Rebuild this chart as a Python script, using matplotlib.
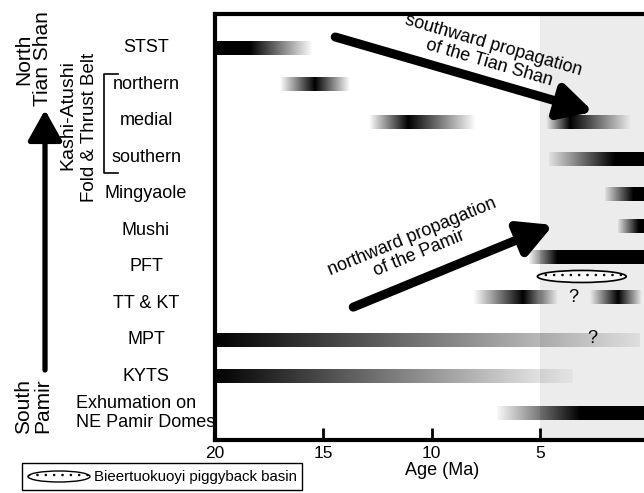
import numpy as np
import matplotlib
matplotlib.use('Agg')
import matplotlib.pyplot as plt
from matplotlib.patches import Ellipse, FancyArrowPatch, Rectangle, ArrowStyle
import matplotlib.transforms as mtransforms

plt.rcParams['font.family'] = ['Liberation Sans', 'DejaVu Sans']
plt.rcParams['hatch.linewidth'] = 0.6

# ---------------- data ----------------
row_labels = ['Exhumation on\nNE Pamir Domes', 'KYTS', 'MPT', 'TT & KT', 'PFT',
              'Mushi', 'Mingyaole', 'southern', 'medial', 'northern', 'STST']
row_pos = [0, 1, 2, 3, 4, 5, 6, 7, 8, 9, 10]

# gradient bars: y-centre, oldest end, dark start, dark end, youngest end (Ma),
# opacity at the oldest / youngest end
bar_y        = [10.0, 9.0, 7.95, 7.95, 6.95, 6.0, 5.1, 4.25, 3.17, 3.17, 2.0, 1.0, 0.0]
bar_old      = [20.0, 17.0, 12.9, 4.7, 4.6, 2.0, 1.4, 5.5, 8.1, 2.7, 20.0, 20.0, 7.0]
bar_dark_old = [20.0, 15.4, 11.1, 3.6, 1.6, 0.7, 0.45, 4.2, 5.8, 1.4, 20.0, 20.0, 3.2]
bar_dark_yng = [18.4, 15.4, 11.1, 3.6, -1.0, -1.0, -1.0, -1.0, 5.8, 1.4, 20.0, 20.0, -1.0]
bar_young    = [15.5, 13.8, 8.0, 0.8, -1.0, -1.0, -1.0, -1.0, 4.2, 0.3, 0.4, 3.5, -1.0]
bar_a_old    = [1.0, 0.0, 0.0, 0.0, 0.05, 0.05, 0.05, 0.05, 0.0, 0.0, 1.0, 1.0, 0.03]
bar_a_young  = [0.0, 0.0, 0.0, 0.0, 1.0, 1.0, 1.0, 1.0, 0.0, 0.0, 0.06, 0.03, 1.0]

# piggyback basin (Ma, row)
basin_x, basin_y, basin_w, basin_h = 3.07, 3.74, 4.1, 0.33

# question marks
q_x = [3.46, 2.58]
q_y = [3.17, 2.05]

# propagation arrows (age, row)
south_tail, south_tip = (14.45, 10.30), (2.54, 8.25)
north_tail, north_tip = (13.62, 2.90), (4.39, 5.15)
south_text_xy, south_rot = (7.25, 9.83), -16.2
north_text_xy, north_rot = (10.75, 4.6), 22.3

shade_span = (5.0, 0.0)
xticks = [20, 15, 10, 5, 0]
xlim = (20, -1)
ylim = (-0.74, 10.93)

# ---------------- figure ----------------
W, H = 644, 493
fig = plt.figure(figsize=(W / 100, H / 100), dpi=100)
ax = fig.add_axes([215 / W, 1 - 440 / H, 455 / W, (440 - 14) / H])
ax.set_facecolor('white')

ax.axvspan(*shade_span, color='#ececec', zorder=0, lw=0)

bar_h = 0.36
for y, a0, a1, a2, a3, e0, e3 in zip(bar_y, bar_old, bar_dark_old, bar_dark_yng,
                                     bar_young, bar_a_old, bar_a_young):
    xs = np.linspace(a0, a3, 500)
    kx = [a3, a2, a1, a0]
    ka = [e3, 1.0, 1.0, e0]
    alpha = np.interp(xs, kx, ka)
    img = np.zeros((1, xs.size, 4))
    img[..., 3] = alpha
    ax.imshow(img, extent=(a0, a3, y - bar_h / 2, y + bar_h / 2), aspect='auto',
              interpolation='bilinear', zorder=2)

# basin ellipse
ax.add_patch(Ellipse((basin_x, basin_y), basin_w, basin_h, facecolor='#f8f8f8',
                     edgecolor='black', lw=1.2, hatch='..', zorder=3))

for qx, qy in zip(q_x, q_y):
    ax.text(qx, qy, '?', ha='center', va='center', fontsize=13, zorder=4)

astyle = ArrowStyle('-|>', head_length=0.62, head_width=0.33)
for tail, tip in [(south_tail, south_tip), (north_tail, north_tip)]:
    ax.add_patch(FancyArrowPatch(tail, tip, arrowstyle=astyle, mutation_scale=32,
                                 lw=6.5, color='black', capstyle='round',
                                 shrinkA=0, shrinkB=0, zorder=5))

ax.text(*south_text_xy, 'southward propagation\nof the Tian Shan', rotation=south_rot,
        ha='center', va='center', fontsize=13, rotation_mode='anchor',
        linespacing=1.05, zorder=6)
ax.text(*north_text_xy, 'northward propagation\nof the Pamir', rotation=north_rot,
        ha='center', va='center', fontsize=13, rotation_mode='anchor',
        linespacing=1.05, zorder=6)

ax.set_xlim(*xlim)
ax.set_ylim(*ylim)
ax.set_xticks(xticks)
ax.set_xticklabels([str(t) for t in xticks], fontsize=12.5)
ax.set_yticks([])
ax.tick_params(axis='x', direction='in', length=9, width=2, pad=4)
for s in ax.spines.values():
    s.set_linewidth(3)
ax.set_xlabel('Age (Ma)', fontsize=13, labelpad=1)

# row labels
tr = mtransforms.blended_transform_factory(fig.transFigure, ax.transData)
for lab, y in zip(row_labels, row_pos):
    ax.text(146 / W, y, lab, transform=tr, ha='center', va='center', fontsize=13,
            multialignment='left', linespacing=1.15, clip_on=False)

def fx(px):
    return px / W

def fy(py):
    return 1 - py / H

# left side annotations
fig.text(fx(33), fy(59), 'North\nTian Shan', rotation=90, ha='center', va='center',
         fontsize=15, linespacing=1.0)
fig.text(fx(33), fy(406), 'South\nPamir', rotation=90, ha='center', va='center',
         fontsize=15, linespacing=1.0)
fig.text(fx(68), fy(115), 'Kashi-Atushi', rotation=90, ha='center', va='center',
         fontsize=14)
fig.text(fx(90), fy(127), 'Fold & Thrust Belt', rotation=90, ha='center', va='center',
         fontsize=13.5)

# bracket
fig.add_artist(plt.Line2D([fx(118), fx(104), fx(104), fx(118)],
                          [fy(74), fy(74), fy(173), fy(173)], color='black', lw=1.2))

# big vertical arrow
fig.add_artist(FancyArrowPatch((fx(45), fy(370)), (fx(45), fy(110)),
                               transform=fig.transFigure,
                               arrowstyle=ArrowStyle('-|>', head_length=0.75, head_width=0.42),
                               mutation_scale=25, lw=3.8, color='black',
                               shrinkA=0, shrinkB=0))

# legend box
fig.add_artist(Rectangle((fx(22), fy(490)), (302 - 22) / W, (490 - 463) / H,
                         transform=fig.transFigure, facecolor='white',
                         edgecolor='black', lw=1))
fig.add_artist(Ellipse((fx(59), fy(476.5)), 62 / W, 11 / H, transform=fig.transFigure,
                       facecolor='white', edgecolor='black', lw=1.0, hatch='..'))
fig.text(fx(94), fy(476.5), 'Bieertuokuoyi piggyback basin', ha='left', va='center',
         fontsize=10.8)

fig.savefig('out.png', dpi=100)
